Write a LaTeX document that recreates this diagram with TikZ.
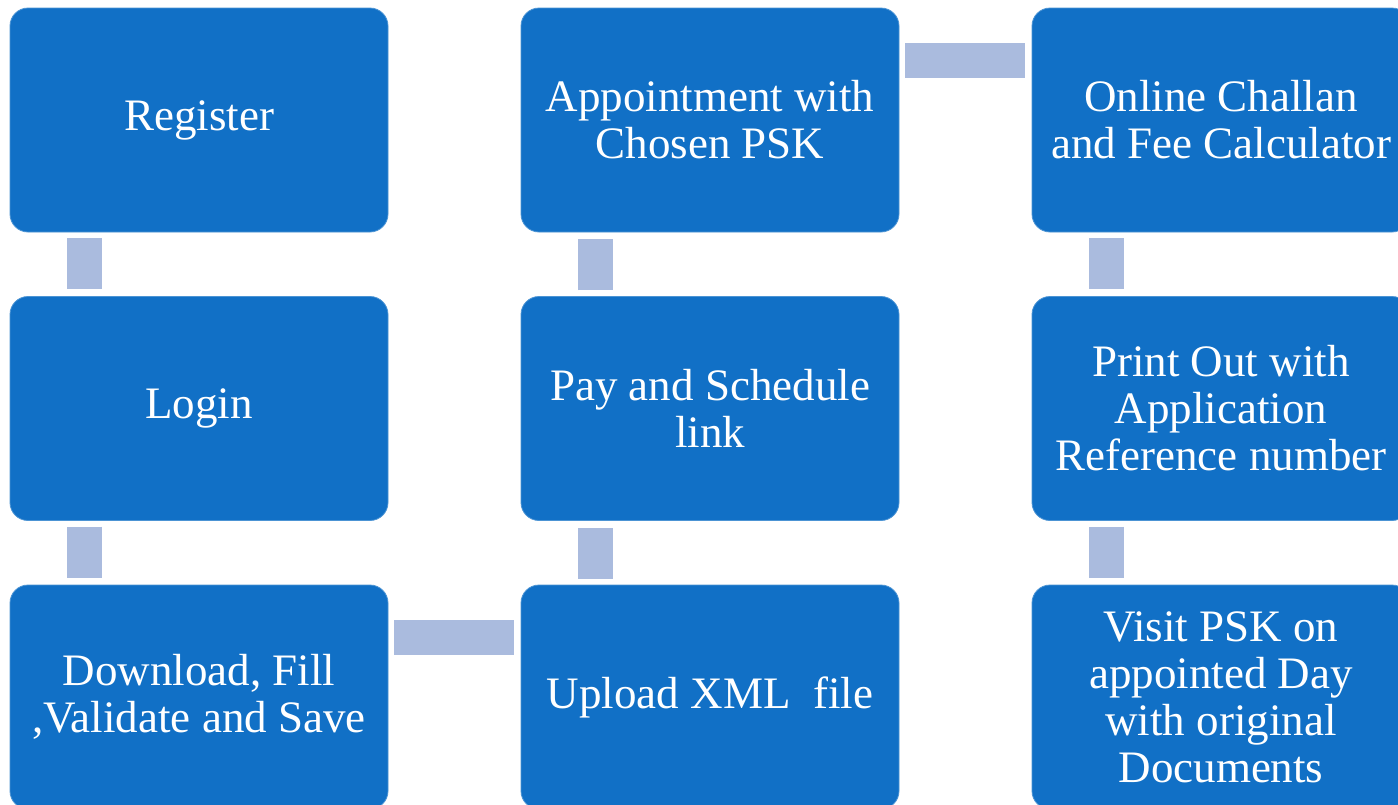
\documentclass[tikz,border=0pt]{standalone}
\usepackage{fontspec}
\setmainfont{Liberation Serif}
\usepackage{xcolor}
\usetikzlibrary{positioning}

\definecolor{boxblue}{RGB}{17,112,198}
\definecolor{linkblue}{RGB}{170,187,222}

\begin{document}
\begin{tikzpicture}[
    x=0.5pt, y=-0.5pt,
    stage/.style={
      draw=boxblue!75!white, line width=0.4pt, rounded corners=9pt,
      fill=boxblue, minimum width=189pt, minimum height=112pt,
      align=center, text=white, inner sep=0pt,
      font=\fontsize{22.5}{23.5}\selectfont
    },
    link/.style={
      draw=linkblue, line width=17.5pt,
      shorten <=3pt, shorten >=3.5pt
    }
  ]

    \useasboundingbox (0,0) rectangle (1398,804);
    \clip (0,0) rectangle (1398,804);
    \fill[white] (0,0) rectangle (1398,804);

    % Left column
    \node[stage] (reg)    at ( 199, 120)   {Register};
    \node[stage] (login)  at ( 199, 408.5) {Login};
    \node[stage] (down)   at ( 199, 697)   {Download, Fill\\,Validate and Save};

    % Middle column
    \node[stage] (appt)   at ( 710, 120)   {Appointment with\\Chosen PSK};
    \node[stage] (pay)    at ( 710, 408.5) {Pay and Schedule\\link};
    \node[stage] (upload) at ( 710, 697)   {Upload XML~ file};

    % Right column
    \node[stage] (fee)    at (1221, 120)   {Online Challan\\and Fee Calculator};
    \node[stage] (print)  at (1221, 408.5) {Print Out with\\Application\\Reference number};
    \node[stage] (visit)  at (1221, 697)   {Visit PSK on\\appointed Day\\with original\\Documents};

    % Links: left column, down
    \draw[link] ([xshift=37.25pt]reg.south west)   -- ([xshift=37.25pt]login.north west);
    \draw[link] ([xshift=37.25pt]login.south west) -- ([xshift=37.25pt]down.north west);

    % Link: across the bottom
    \draw[link] ([yshift=-26.5pt]down.north east) -- ([yshift=-26.5pt]upload.north west);

    % Links: middle column, up
    \draw[link] ([xshift=37.5pt]upload.north west) -- ([xshift=37.5pt]pay.south west);
    \draw[link] ([xshift=37.5pt]pay.north west)    -- ([xshift=37.5pt]appt.south west);

    % Link: across the top
    \draw[link] ([yshift=-26.5pt]appt.north east) -- ([yshift=-26.5pt]fee.north west);

    % Links: right column, down
    \draw[link] ([xshift=37.25pt]fee.south west)   -- ([xshift=37.25pt]print.north west);
    \draw[link] ([xshift=37.25pt]print.south west) -- ([xshift=37.25pt]visit.north west);

  \end{tikzpicture}
\end{document}
